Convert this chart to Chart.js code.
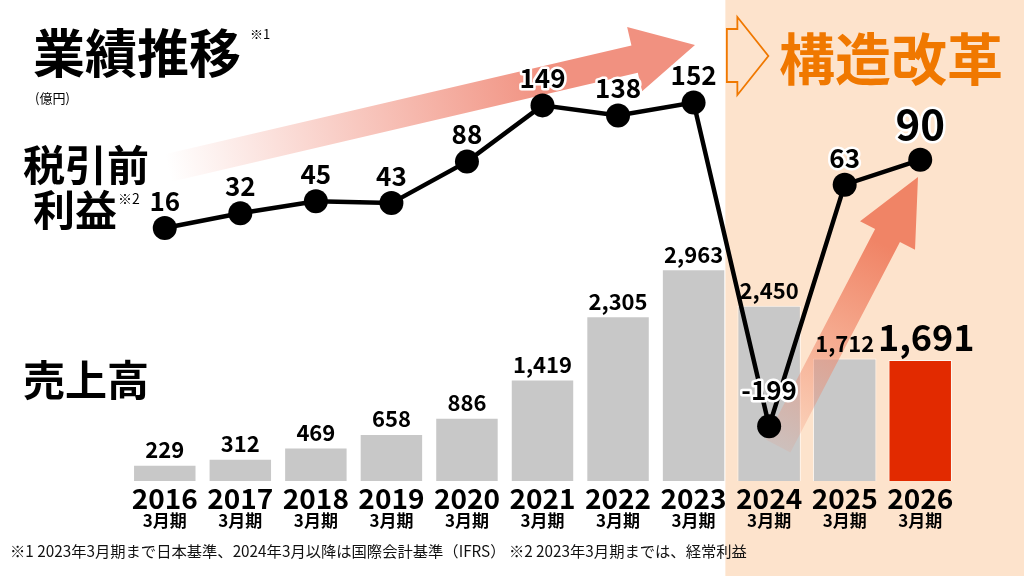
<!DOCTYPE html>
<html>
<head>
<meta charset="utf-8">
<script src="https://cdn.jsdelivr.net/npm/chart.js@4"></script>
<style>
  html, body { margin: 0; padding: 0; background: #fff; }
  #wrap { width: 1024px; height: 576px; position: relative; }
</style>
</head>
<body>
<div id="wrap"><canvas id="myChart" width="1024" height="576"></canvas></div>
<script>
const FONT = '"Noto Sans CJK JP", "Noto Sans", sans-serif';

// 決算期（3月期）
const years = ['2016', '2017', '2018', '2019', '2020', '2021', '2022', '2023', '2024', '2025', '2026'];
const periodLabel = '3月期';
// 売上高（億円）
const sales = [229, 312, 469, 658, 886, 1419, 2305, 2963, 2450, 1712, 1691];
// 税引前利益（億円）
const profit = [16, 32, 45, 43, 88, 149, 138, 152, -199, 63, 90];
// 構造改革の期間は 2024年3月期から
const reformStart = 8;

const GRAY = '#c8c8c8';
const RED = '#e22a00';
const PEACH = '#fde3cc';
const ORANGE = '#f07800';

//* 最後の棒だけ赤
const barColors = sales.map((v, i) => i === sales.length - 1 ? RED : GRAY);

// ラベルの持ち上げ量（点からの距離）
function lineLift(i) {
  if (i === profit.length - 1) return 36;
  if (profit[i] < 0) return 36;
  return 27;
}

function drawArrow(ctx, sx, sy, tx, ty, shaftW, headW, headL, c0, c1, stop) {
  const dx = tx - sx, dy = ty - sy, len = Math.hypot(dx, dy);
  ctx.save();
  ctx.translate(sx, sy);
  ctx.rotate(Math.atan2(dy, dx));
  const g = ctx.createLinearGradient(0, 0, len, 0);
  g.addColorStop(0, c0);
  g.addColorStop(stop, c1);
  g.addColorStop(1, c1);
  ctx.fillStyle = g;
  ctx.beginPath();
  ctx.moveTo(0, -shaftW / 2);
  ctx.lineTo(len - headL, -shaftW / 2);
  ctx.lineTo(len - headL, -headW / 2);
  ctx.lineTo(len, 0);
  ctx.lineTo(len - headL, headW / 2);
  ctx.lineTo(len - headL, shaftW / 2);
  ctx.lineTo(0, shaftW / 2);
  ctx.closePath();
  ctx.fill();
  ctx.restore();
}

function outlinedText(ctx, text, x, y, font) {
  ctx.font = font;
  ctx.lineJoin = 'round';
  ctx.strokeStyle = '#fff';
  ctx.lineWidth = 5;
  ctx.strokeText(text, x, y);
  ctx.fillStyle = '#000';
  ctx.fillText(text, x, y);
}

const decor = {
  id: 'decor',
  beforeDraw(chart) {
    const { ctx, width, height } = chart;
    const x = chart.scales.x;
    const half = (x.getPixelForValue(1) - x.getPixelForValue(0)) / 2;
    const px = x.getPixelForValue(reformStart) - half - 6;
    ctx.save();
    ctx.fillStyle = '#fff';
    ctx.fillRect(0, 0, width, height);
    ctx.fillStyle = PEACH;
    ctx.fillRect(px, 0, width - px, height);

    // 白抜き矢印
    ctx.strokeStyle = ORANGE;
    ctx.lineWidth = 1.8;
    ctx.beginPath();
    ctx.moveTo(px + 1.5, 29);
    ctx.lineTo(px + 12, 29);
    ctx.lineTo(px + 12, 17);
    ctx.lineTo(px + 43, 56);
    ctx.lineTo(px + 12, 95);
    ctx.lineTo(px + 12, 82);
    ctx.lineTo(px + 1.5, 82);
    ctx.closePath();
    ctx.stroke();
    ctx.restore();
  },
  afterDatasetDraw(chart, args) {
    if (args.index !== 0) return;
    const ctx = chart.ctx;
    drawArrow(ctx, 168, 168, 695, 45, 28, 66, 62,
      'rgba(241,145,128,0)', 'rgb(241,145,128)', 0.72);
    drawArrow(ctx, 778, 446, 918, 177, 28, 62, 66,
      'rgba(240,130,100,0.12)', 'rgb(240,132,102)', 0.75);
  },
  afterDatasetsDraw(chart) {
    const ctx = chart.ctx;
    const bars = chart.getDatasetMeta(0).data;
    const pts = chart.getDatasetMeta(1).data;
    ctx.save();
    ctx.textAlign = 'center';
    ctx.textBaseline = 'middle';

    //* 売上高ラベル
    bars.forEach((b, i) => {
      const last = i === bars.length - 1;
      ctx.font = 'bold ' + (last ? '36px ' : '22px ') + FONT;
      ctx.fillStyle = '#000';
      ctx.fillText(sales[i].toLocaleString('en-US'), b.x + (last ? 6 : 0), b.y - (last ? 23 : 15));
    });

    //* 利益ラベル
    pts.forEach((p, i) => {
      const last = i === pts.length - 1;
      const f = 'bold ' + (last ? '42px ' : '26px ') + FONT;
      outlinedText(ctx, String(profit[i]), p.x, p.y - lineLift(i), f);
    });

    //* 年度ラベル
    const x = chart.scales.x;
    years.forEach((y, i) => {
      const cx = x.getPixelForValue(i);
      ctx.fillStyle = '#000';
      ctx.font = 'bold 28px ' + FONT;
      ctx.fillText(y, cx, 498);
      ctx.font = 'bold 17px ' + FONT;
      ctx.fillText(periodLabel, cx, 521);
    });
    ctx.restore();
  },
  afterDraw(chart) {
    const ctx = chart.ctx;
    ctx.save();
    ctx.textBaseline = 'alphabetic';
    ctx.textAlign = 'left';
    ctx.fillStyle = '#000';

    ctx.font = 'bold 52px ' + FONT;
    ctx.fillText('業績推移', 33, 73);
    ctx.font = '13px ' + FONT;
    ctx.fillText('※1', 250, 39);
    ctx.fillText('(億円)', 35, 103);

    ctx.font = 'bold 42px ' + FONT;
    ctx.fillText('税引前', 23, 181);
    ctx.fillText('利益', 33, 226);
    ctx.font = '14px ' + FONT;
    ctx.fillText('※2', 118, 204);

    ctx.font = 'bold 42px ' + FONT;
    ctx.fillText('売上高', 23, 396);

    ctx.fillStyle = ORANGE;
    ctx.font = 'bold 56px ' + FONT;
    ctx.fillText('構造改革', 779, 80);

    ctx.fillStyle = '#111';
    ctx.font = '15.3px ' + FONT;
    ctx.fillText('※1 2023年3月期まで日本基準、2024年3月以降は国際会計基準（IFRS） ※2 2023年3月期までは、経常利益', 10, 557);
    ctx.restore();
  }
};

const ctx = document.getElementById('myChart');

const myChart = new Chart(ctx, {
  type: 'bar',
  data: {
    labels: years,
    datasets: [
      {
        label: '売上高',
        data: sales,
        backgroundColor: barColors,
        borderColor: 'rgba(255,255,255,0.7)',
        borderWidth: 1,
        barPercentage: 0.84,
        categoryPercentage: 1,
        yAxisID: 'y',
        order: 1
      },
      {
        type: 'line',
        label: '税引前利益',
        data: profit,
        borderColor: '#000',
        borderWidth: 4.5,
        pointRadius: 12,
        pointBackgroundColor: '#000',
        pointBorderWidth: 0,
        tension: 0,
        yAxisID: 'y1',
        order: 0
      }
    ]
  },
  options: {
    responsive: false,
    animation: false,
    layout: { padding: { left: 127, right: 66, top: 20, bottom: 95 } },
    plugins: { legend: { display: false }, tooltip: { enabled: false } },
    scales: {
      x: { display: false, offset: true },
      y: { display: false, min: 0, max: 6448 },
      y1: { display: false, min: -258.4, max: 241.6 }
    }
  },
  plugins: [decor]
});
</script>
</body>
</html>
